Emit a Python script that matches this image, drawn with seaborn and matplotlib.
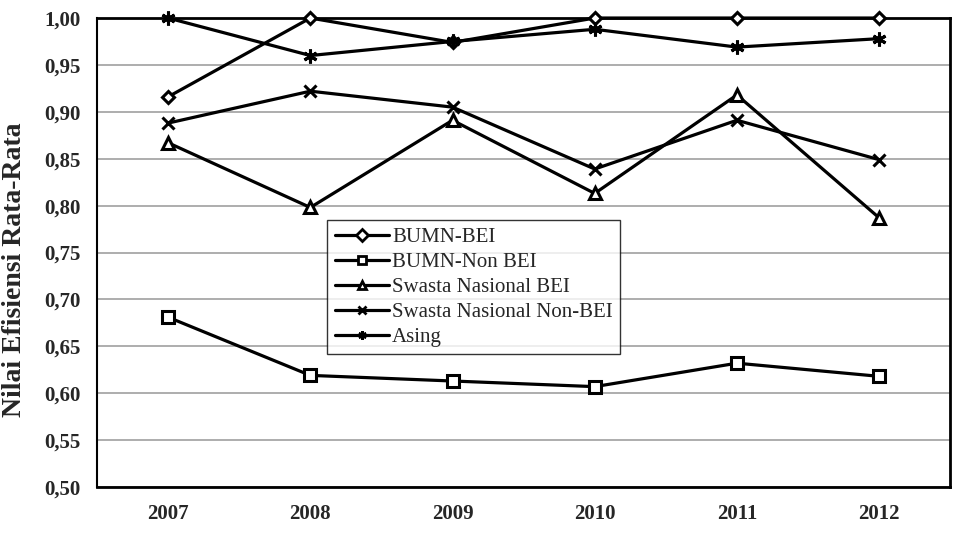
import numpy as np
import pandas as pd
import matplotlib
matplotlib.use("Agg")
import matplotlib.pyplot as plt
from matplotlib.ticker import FuncFormatter, MultipleLocator
import seaborn as sns

# Data
years = ["2007", "2008", "2009", "2010", "2011", "2012"]
bumn_bei = [0.916, 1.000, 0.974, 1.000, 1.000, 1.000]
bumn_non_bei = [0.681, 0.619, 0.613, 0.607, 0.632, 0.618]
swasta_bei = [0.867, 0.798, 0.891, 0.813, 0.918, 0.787]
swasta_non_bei = [0.888, 0.922, 0.905, 0.839, 0.891, 0.849]
asing = [1.000, 0.960, 0.975, 0.988, 0.969, 0.978]

series = ["BUMN-BEI", "BUMN-Non BEI", "Swasta Nasional BEI",
          "Swasta Nasional Non-BEI", "Asing"]
values = [bumn_bei, bumn_non_bei, swasta_bei, swasta_non_bei, asing]
markers = ["D", "s", "^", "x", (6, 2, 0)]
msizes = [6, 8, 8, 9, 10]

sns.set_style("white")
plt.rcParams["font.family"] = ["Liberation Serif", "DejaVu Serif"]

fig = plt.figure(figsize=(9.55, 5.38), dpi=100)
ax = fig.add_axes([0.1016, 0.0948, 0.8934, 0.8717])

x = np.arange(len(years))
for name, vals, m, ms in zip(series, values, markers, msizes):
    df = pd.DataFrame({"x": x, "y": vals})
    sns.lineplot(data=df, x="x", y="y", ax=ax, color="black", lw=2.3,
                 marker=m, markersize=ms, markerfacecolor="white",
                 markeredgecolor="black", markeredgewidth=2.2,
                 label=name, clip_on=False, zorder=3)

ax.set_xlim(-0.5, 5.5)
ax.set_ylim(0.5, 1.0)
ax.set_xticks(x)
ax.set_xticklabels(years)
ax.yaxis.set_major_locator(MultipleLocator(0.05))
ax.yaxis.set_major_formatter(FuncFormatter(lambda v, p: f"{v:.2f}".replace(".", ",")))
ax.grid(axis="y", color="#a0a0a0", lw=1.2)
ax.set_axisbelow(True)
for s in ax.spines.values():
    s.set_color("black")
    s.set_linewidth(2)
ax.spines["left"].set_linewidth(1.5)

for lab in ax.get_xticklabels() + ax.get_yticklabels():
    lab.set_fontweight("bold")
    lab.set_fontsize(15)
ax.tick_params(axis="x", pad=12, length=0)
ax.tick_params(axis="y", pad=12, length=0)
ax.set_xlabel("")
ax.set_ylabel("Nilai Efisiensi Rata-Rata", fontsize=20, fontweight="bold")
ax.yaxis.set_label_coords(-0.082, 0.463)

leg = ax.legend(loc="upper left", bbox_to_anchor=(0.270, 0.569), borderaxespad=0,
                frameon=True, fancybox=False, fontsize=15, handlelength=2.6,
                borderpad=0.35, labelspacing=0.26, handletextpad=0.15)
leg.get_frame().set_edgecolor("black")
leg.get_frame().set_linewidth(1.0)
for h in leg.legend_handles:
    h.set_markersize(6)
    h.set_markeredgewidth(2)

fig.savefig("out.png", dpi=100)
